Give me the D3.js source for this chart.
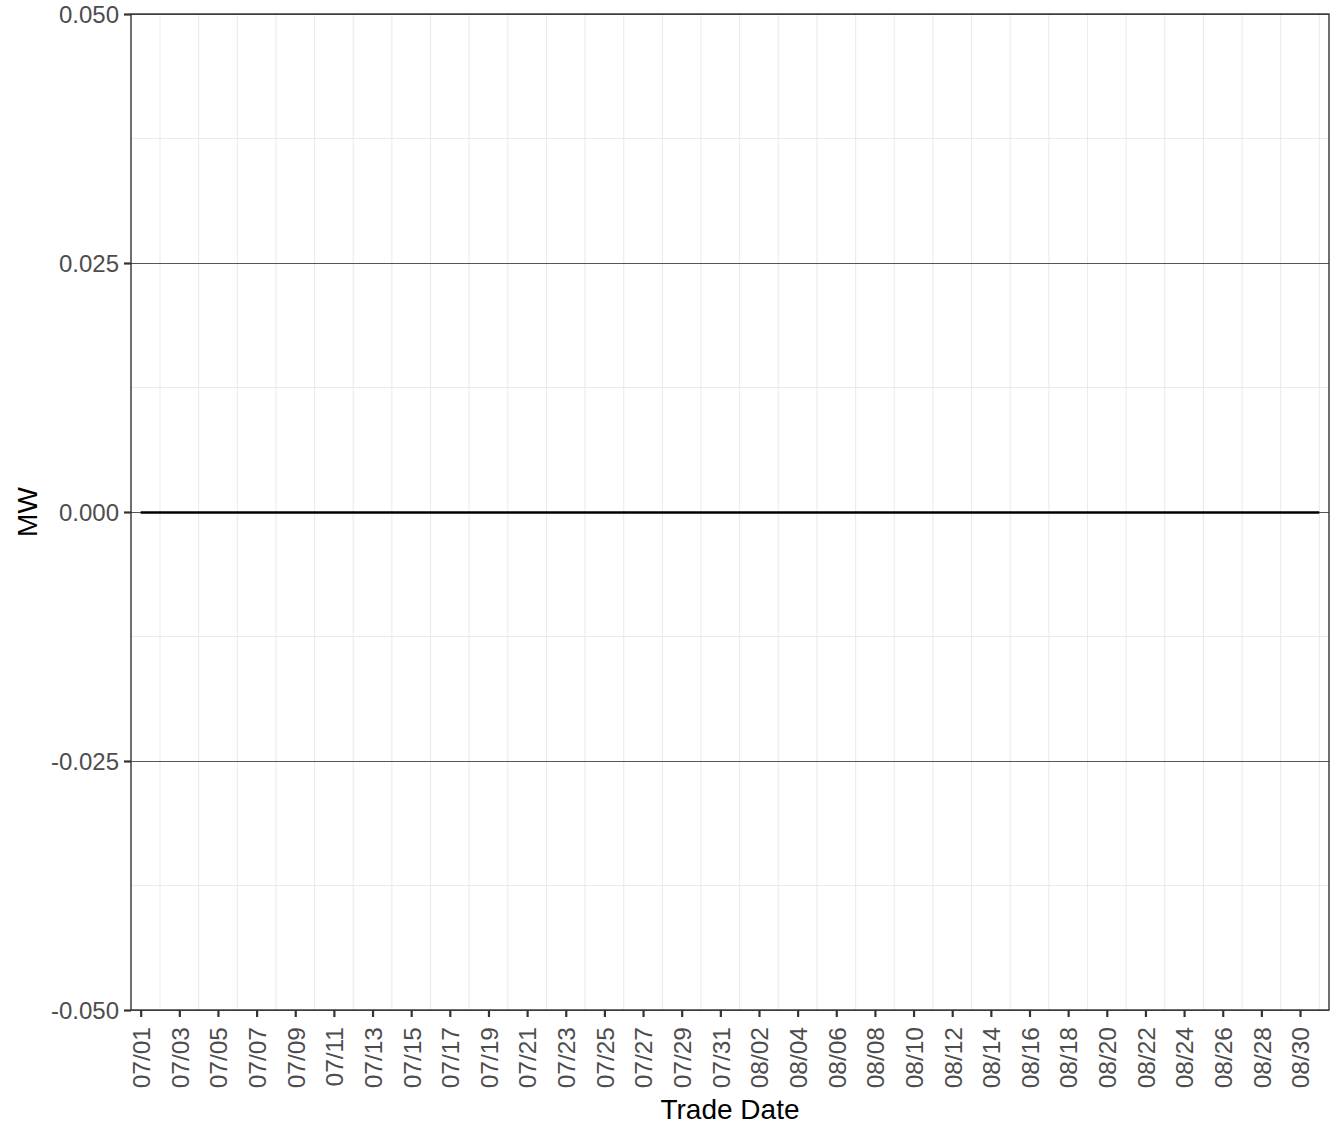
<!DOCTYPE html>
<html>
<head>
<meta charset="utf-8">
<script src="https://cdn.jsdelivr.net/npm/d3@7"></script>
<style>
  body { margin: 0; background: #fff; }
  svg { display: block; font-family: "Liberation Sans", Arial, Helvetica, sans-serif; }
</style>
</head>
<body>
<div id="chart"></div>
<script>
// trade dates (2023) and MW values
var tradeDates = [
    '07/01', '07/02', '07/03', '07/04', '07/05', '07/06', '07/07', '07/08', '07/09', '07/10',
    '07/11', '07/12', '07/13', '07/14', '07/15', '07/16', '07/17', '07/18', '07/19', '07/20',
    '07/21', '07/22', '07/23', '07/24', '07/25', '07/26', '07/27', '07/28', '07/29', '07/30',
    '07/31', '08/01', '08/02', '08/03', '08/04', '08/05', '08/06', '08/07', '08/08', '08/09',
    '08/10', '08/11', '08/12', '08/13', '08/14', '08/15', '08/16', '08/17', '08/18', '08/19',
    '08/20', '08/21', '08/22', '08/23', '08/24', '08/25', '08/26', '08/27', '08/28', '08/29',
    '08/30', '08/31'
];
var mwValues = [
    0, 0, 0, 0, 0, 0, 0, 0, 0, 0,
    0, 0, 0, 0, 0, 0, 0, 0, 0, 0,
    0, 0, 0, 0, 0, 0, 0, 0, 0, 0,
    0, 0, 0, 0, 0, 0, 0, 0, 0, 0,
    0, 0, 0, 0, 0, 0, 0, 0, 0, 0,
    0, 0, 0, 0, 0, 0, 0, 0, 0, 0,
    0, 0
];
var xTickLabels = [
    '07/01', '07/03', '07/05', '07/07', '07/09', '07/11', '07/13', '07/15', '07/17', '07/19',
    '07/21', '07/23', '07/25', '07/27', '07/29', '07/31', '08/02', '08/04', '08/06', '08/08',
    '08/10', '08/12', '08/14', '08/16', '08/18', '08/20', '08/22', '08/24', '08/26', '08/28',
    '08/30'
];
var yTicks = [-0.05, -0.025, 0, 0.025, 0.05];
var yMinorTicks = [-0.0375, -0.0125, 0.0125, 0.0375];
var yDomain = [-0.05, 0.05];

var width = 1344, height = 1142;
var margin = {top: 14, right: 15, bottom: 132, left: 131};
var innerW = width - margin.left - margin.right,
    innerH = height - margin.top - margin.bottom;

var parseDate = function (s) { return d3.utcParse('%Y/%m/%d')('2023/' + s); };
var halfDay = 12 * 3600 * 1000;

var data = tradeDates.map(function (d, i) {
    return {date: parseDate(d), value: mwValues[i]};
});

var x = d3.scaleUtc()
    .domain([new Date(data[0].date.getTime() - halfDay),
             new Date(data[data.length - 1].date.getTime() + halfDay)])
    .range([0, innerW]);
var y = d3.scaleLinear().domain(yDomain).range([innerH, 0]);

var xMajor = xTickLabels.map(parseDate);
// minor grid falls between labelled dates
var xMinor = data.filter(function (d, i) { return i % 2 === 1; })
    .map(function (d) { return d.date; });

var svg = d3.select('#chart').append('svg')
    .attr('width', width)
    .attr('height', height);

var g = svg.append('g')
    .attr('transform', 'translate(' + margin.left + ',' + margin.top + ')');

g.append('rect')
    .attr('width', innerW)
    .attr('height', innerH)
    .attr('fill', '#fff');

// grid
g.append('g').selectAll('line').data(xMinor).enter().append('line')
    .attr('x1', function (d) { return x(d); })
    .attr('x2', function (d) { return x(d); })
    .attr('y1', 0).attr('y2', innerH)
    .attr('stroke', '#ebebeb').attr('stroke-width', 1.1);

g.append('g').selectAll('line').data(yMinorTicks).enter().append('line')
    .attr('x1', 0).attr('x2', innerW)
    .attr('y1', function (d) { return y(d); })
    .attr('y2', function (d) { return y(d); })
    .attr('stroke', '#ebebeb').attr('stroke-width', 1.1);

g.append('g').selectAll('line').data(yTicks).enter().append('line')
    .attr('x1', 0).attr('x2', innerW)
    .attr('y1', function (d) { return y(d) + 0.5; })
    .attr('y2', function (d) { return y(d) + 0.5; })
    .attr('stroke', '#555').attr('stroke-width', 1);

// series
var line = d3.line()
    .x(function (d) { return x(d.date); })
    .y(function (d) { return y(d.value) + 0.5; });

g.append('path')
    .datum(data)
    .attr('fill', 'none')
    .attr('stroke', '#000')
    .attr('stroke-width', 2.7)
    .attr('d', line);

// panel border
g.append('rect')
    .attr('x', 0).attr('y', 0)
    .attr('width', innerW).attr('height', innerH)
    .attr('fill', 'none')
    .attr('stroke', '#333')
    .attr('stroke-width', 1.4);

// axes
var fmtY = function (d) { return d3.format('.3f')(d).replace('\u2212', '-'); };

var xAxis = d3.axisBottom(x)
    .tickValues(xMajor)
    .tickFormat(d3.utcFormat('%m/%d'))
    .tickSize(7)
    .tickPadding(4);

var yAxis = d3.axisLeft(y)
    .tickValues(yTicks)
    .tickFormat(fmtY)
    .tickSize(7)
    .tickPadding(5);

var xg = g.append('g')
    .attr('transform', 'translate(0,' + innerH + ')')
    .call(xAxis);
xg.select('.domain').remove();
xg.selectAll('.tick line').attr('stroke', '#333').attr('stroke-width', 2.2);
xg.selectAll('.tick text')
    .attr('fill', '#4d4d4d')
    .style('font-size', '24.5px')
    .attr('transform', 'rotate(-90)')
    .attr('x', -17)
    .attr('y', 0)
    .attr('dy', '0.36em')
    .style('text-anchor', 'end');

var yg = g.append('g').call(yAxis);
yg.select('.domain').remove();
yg.selectAll('.tick line').attr('stroke', '#333').attr('stroke-width', 2.2);
yg.selectAll('.tick text')
    .attr('fill', '#4d4d4d')
    .style('font-size', '24px')
    .attr('dy', '0.36em');

// titles
svg.append('text')
    .attr('x', margin.left + innerW / 2)
    .attr('y', 1119)
    .attr('text-anchor', 'middle')
    .style('font-size', '28px')
    .attr('fill', '#000')
    .text('Trade Date');

svg.append('text')
    .attr('transform', 'translate(37,' + (margin.top + innerH / 2) + ') rotate(-90)')
    .attr('text-anchor', 'middle')
    .style('font-size', '28px')
    .attr('fill', '#000')
    .text('MW');
</script>
</body>
</html>
